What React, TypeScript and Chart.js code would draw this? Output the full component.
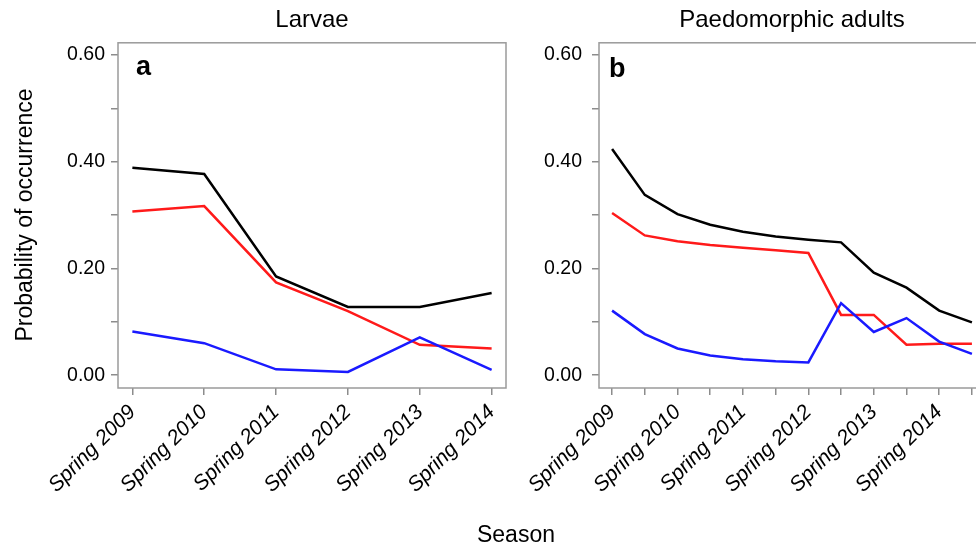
import React, { useEffect, useRef } from "react";
import { Chart, registerables } from "chart.js";

Chart.register(...registerables);

const FONT = "'Liberation Sans', Arial, Helvetica, sans-serif";

// ---- data ----
const seasonLabels = ["Spring 2009", "Spring 2010", "Spring 2011", "Spring 2012", "Spring 2013", "Spring 2014"];
const yTickValues = [0, 0.1, 0.2, 0.3, 0.4, 0.5, 0.6];

// Panel a: Larvae (yearly, spring surveys)
const larvaeTimes = [0, 1, 2, 3, 4, 5];
const larvaeBlack = [0.389, 0.377, 0.185, 0.128, 0.128, 0.154];
const larvaeRed = [0.307, 0.317, 0.174, 0.12, 0.057, 0.05];
const larvaeBlue = [0.082, 0.06, 0.011, 0.006, 0.071, 0.01];

// Panel b: Paedomorphic adults (spring and autumn surveys)
const adultTimes = [0, 0.5, 1, 1.5, 2, 2.5, 3, 3.5, 4, 4.5, 5, 5.5];
const adultBlack = [0.424, 0.338, 0.302, 0.282, 0.269, 0.26, 0.254, 0.249, 0.192, 0.164, 0.121, 0.099];
const adultRed = [0.304, 0.262, 0.251, 0.244, 0.239, 0.234, 0.229, 0.113, 0.113, 0.057, 0.059, 0.059];
const adultBlue = [0.121, 0.077, 0.05, 0.037, 0.03, 0.026, 0.024, 0.135, 0.081, 0.107, 0.063, 0.04];

const panelPlugin = {
  id: "panelBox",
  beforeDatasetsDraw(chart: any, _args: any, opts: any) {
    const { ctx, chartArea: a } = chart;
    ctx.save();
    ctx.strokeStyle = "#9a9a9a";
    ctx.lineWidth = 1.5;
    ctx.strokeRect(a.left, a.top, a.right - a.left, a.bottom - a.top);
    ctx.fillStyle = "#000";
    ctx.font = `bold 27px ${FONT}`;
    ctx.textBaseline = "alphabetic";
    ctx.textAlign = "left";
    ctx.fillText(opts.letter, a.left + opts.dx, a.top + opts.dy);
    ctx.restore();
  },
};

function series(times: number[], vals: number[]) {
  return times.map((t, i) => ({ x: t, y: vals[i] }));
}

function buildConfig(p: any): any {
  const line = (data: number[], color: string) => ({
    data: series(p.times, data),
    borderColor: color,
    backgroundColor: color,
    borderWidth: 2.5,
    pointRadius: 0,
    tension: 0,
    fill: false,
  });
  const gridStyle = {
    drawOnChartArea: false,
    drawTicks: true,
    tickLength: 7,
    color: "#8c8c8c",
    lineWidth: 1.5,
  };
  return {
    type: "line",
    data: {
      datasets: [line(p.blue, "#1a1aff"), line(p.red, "#ff1a1a"), line(p.black, "#000000")],
    },
    plugins: [panelPlugin],
    options: {
      responsive: false,
      animation: false,
      events: [],
      layout: { padding: { left: 0, right: p.rightPad, top: 0, bottom: 0 } },
      scales: {
        x: {
          type: "linear",
          min: p.xMin,
          max: p.xMax,
          afterBuildTicks: (s: any) => {
            s.ticks = p.xTicks.map((v: number) => ({ value: v }));
          },
          afterFit: (s: any) => {
            s.height = 158;
            s.paddingLeft = 0;
            s.paddingRight = 0;
          },
          grid: gridStyle,
          border: { display: false },
          ticks: {
            autoSkip: false,
            maxRotation: 45,
            minRotation: 45,
            padding: 5,
            color: "#000",
            font: { family: FONT, size: 21, style: "italic" },
            callback: (v: number) => (Number.isInteger(v) ? seasonLabels[v] : ""),
          },
        },
        y: {
          type: "linear",
          min: -0.024,
          max: 0.623,
          afterBuildTicks: (s: any) => {
            s.ticks = yTickValues.map((v) => ({ value: v }));
          },
          afterFit: (s: any) => {
            s.width = p.yAxisWidth;
            s.paddingTop = 0;
            s.paddingBottom = 0;
          },
          grid: gridStyle,
          border: { display: false },
          ticks: {
            padding: p.yPad,
            color: "#000",
            font: { family: FONT, size: 19.5 },
            callback: (v: number) => (Math.round(v * 10) % 2 === 0 ? v.toFixed(2) : ""),
          },
        },
      },
      plugins: {
        legend: { display: false },
        tooltip: { enabled: false },
        title: {
          display: true,
          text: p.title,
          fullSize: false,
          color: "#000",
          font: { family: FONT, size: 24, weight: "normal" },
          padding: { top: 6, bottom: 8 },
        },
        panelBox: { letter: p.letter, dx: p.letterDx, dy: p.letterDy },
      },
    },
  };
}

function Panel(props: { left: number; width: number; cfg: any }) {
  const ref = useRef<HTMLCanvasElement | null>(null);
  useEffect(() => {
    if (!ref.current) return;
    const chart = new Chart(ref.current, buildConfig(props.cfg));
    return () => chart.destroy();
  }, []);
  return (
    <canvas
      ref={ref}
      width={props.width}
      height={546}
      style={{ position: "absolute", left: props.left, top: 0, width: props.width, height: 546 }}
    />
  );
}

export default function App() {
  const cfgA = {
    times: larvaeTimes,
    black: larvaeBlack,
    red: larvaeRed,
    blue: larvaeBlue,
    xMin: -0.2,
    xMax: 5.2,
    xTicks: [0, 1, 2, 3, 4, 5],
    title: "Larvae",
    letter: "a",
    letterDx: 18,
    letterDy: 32,
    yAxisWidth: 118,
    yPad: 6,
    rightPad: 9,
  };
  const cfgB = {
    times: adultTimes,
    black: adultBlack,
    red: adultRed,
    blue: adultBlue,
    xMin: -0.2,
    xMax: 5.7,
    xTicks: adultTimes,
    title: "Paedomorphic adults",
    letter: "b",
    letterDx: 10,
    letterDy: 34,
    yAxisWidth: 84,
    yPad: 10,
    rightPad: 15,
  };
  return (
    <div
      style={{
        position: "fixed",
        left: 0,
        top: 0,
        width: 976,
        height: 546,
        overflow: "hidden",
        background: "#fff",
        fontFamily: FONT,
      }}
    >
      <Panel left={0} width={515} cfg={cfgA} />
      <Panel left={515} width={485} cfg={cfgB} />
      <div
        style={{
          position: "absolute",
          left: 24 - 160,
          top: 215 - 13,
          width: 320,
          height: 26,
          lineHeight: "26px",
          fontSize: 23,
          textAlign: "center",
          transform: "rotate(-90deg)",
          color: "#000",
          whiteSpace: "nowrap",
        }}
      >
        Probability of occurrence
      </div>
      <div
        style={{
          position: "absolute",
          left: 516 - 100,
          top: 521,
          width: 200,
          lineHeight: "26px",
          fontSize: 23,
          textAlign: "center",
          color: "#000",
        }}
      >
        Season
      </div>
    </div>
  );
}
